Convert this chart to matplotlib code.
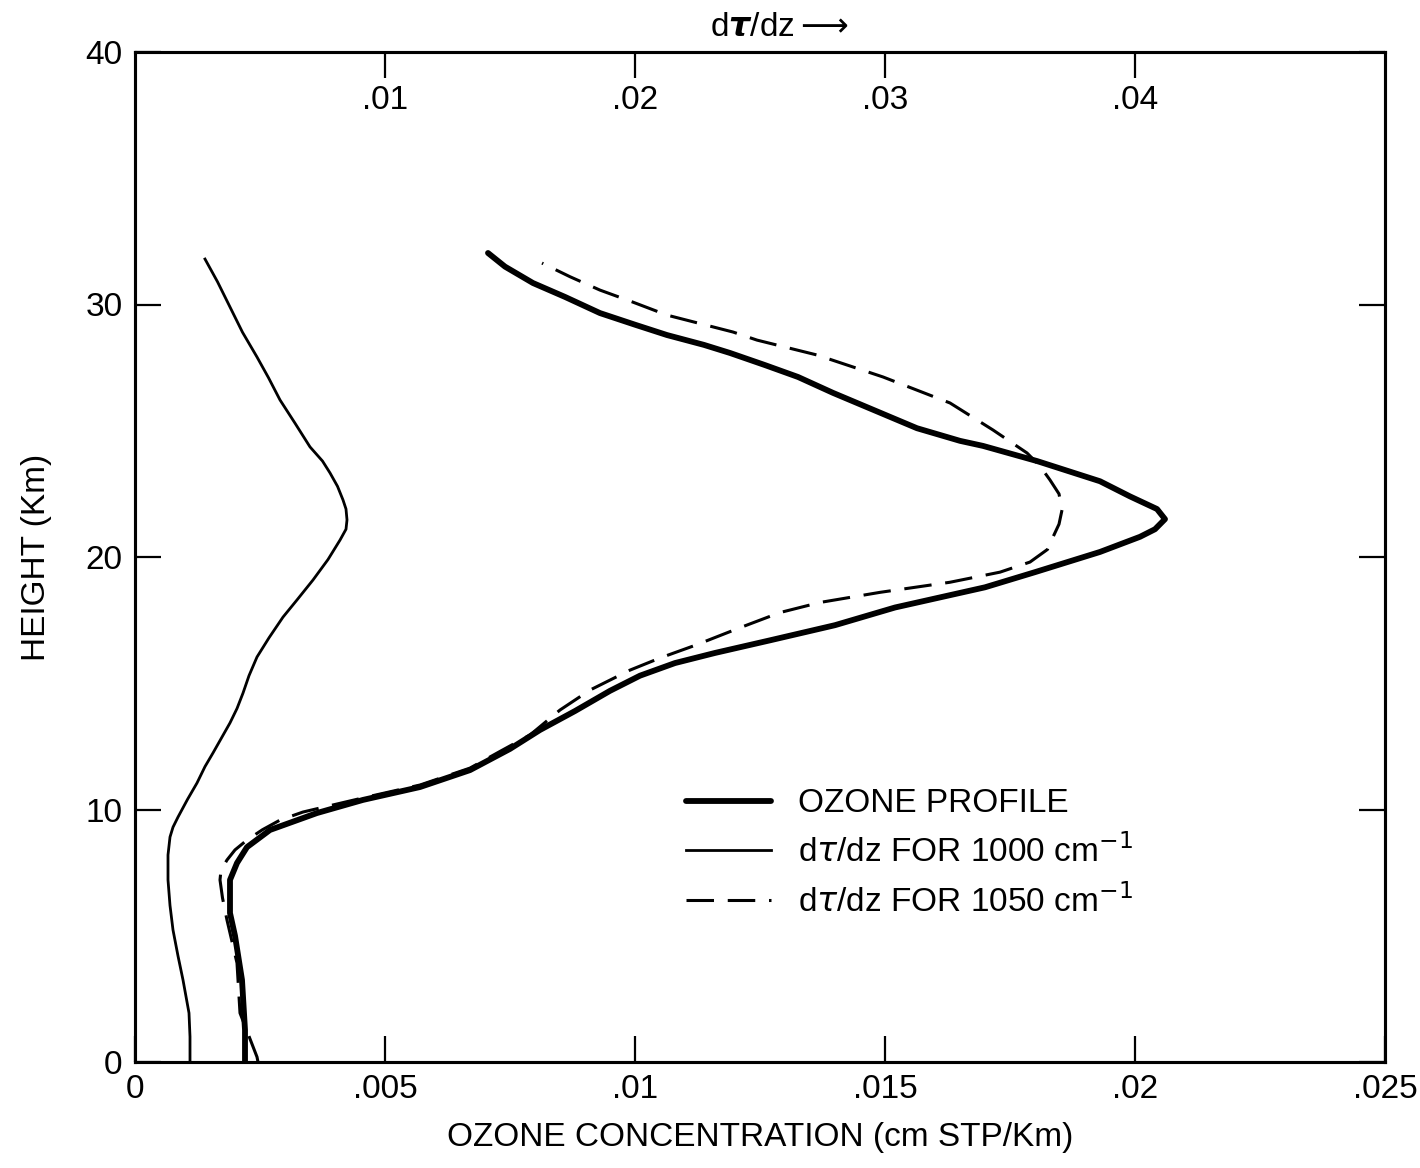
import matplotlib.pyplot as plt

plt.rcParams['font.family'] = ['Liberation Sans', 'DejaVu Sans']
plt.rcParams['mathtext.fontset'] = 'dejavusans'

# ozone profile, bottom axis (cm STP/Km) vs height (km)
oz_h = [0, 1.27, 3.25, 5.0, 5.9, 7.21, 7.88, 8.51, 9.19, 9.86, 10.38, 10.89, 11.56,
        12.4, 13.15, 13.9, 14.7, 15.3, 15.8, 16.2, 16.7, 17.3, 18.0, 18.8, 19.4,
        20.2, 20.8, 21.1, 21.5, 21.9, 22.4, 23.0, 23.8, 24.4, 24.6, 25.1, 25.8,
        26.5, 27.13, 27.6, 28.08, 28.4, 28.79, 29.2, 29.66, 30.3, 30.85, 31.5, 32.04]
oz_x = [0.0022, 0.0022, 0.00214, 0.002, 0.0019, 0.0019, 0.00204, 0.00224, 0.0027,
        0.00364, 0.00456, 0.0057, 0.0067, 0.0075, 0.0081, 0.0088, 0.0095, 0.0101,
        0.0108, 0.0116, 0.0127, 0.0140, 0.0152, 0.0170, 0.0180, 0.0193, 0.0201,
        0.0204, 0.0206, 0.02044, 0.0199, 0.0193, 0.01804, 0.01696, 0.0165, 0.01564,
        0.0148, 0.01396, 0.01326, 0.0126, 0.0119, 0.01138, 0.01064, 0.0100,
        0.0093, 0.0086, 0.00796, 0.0074, 0.00706]

# d tau/dz for 1000 cm-1, top axis
t1000_h = [0, 1.0, 1.94, 3.25, 4.2, 5.23, 6.2, 7.21, 8.2, 8.91, 9.3, 9.70, 10.4,
           11.05, 11.7, 12.24, 12.8, 13.43, 14.0, 14.61, 15.3, 16.04, 16.8, 17.62,
           18.3, 19.09, 19.9, 20.67, 21.1, 21.47, 21.9, 22.26, 22.8, 23.33, 23.8,
           24.36, 25.3, 26.22, 27.1, 27.92, 28.9, 29.90, 30.9, 31.80]
t1000_x = [0.0022, 0.0022, 0.00216, 0.00192, 0.00172, 0.00152, 0.0014, 0.00132,
           0.00132, 0.0014, 0.00152, 0.00172, 0.0021, 0.00248, 0.0028, 0.00312,
           0.00344, 0.0038, 0.00408, 0.00432, 0.00456, 0.00488, 0.00536, 0.00592,
           0.00648, 0.00712, 0.00772, 0.0082, 0.00844, 0.00848, 0.00844, 0.00832,
           0.0081, 0.0078, 0.0075, 0.007, 0.0064, 0.0058, 0.00534, 0.00488, 0.0043,
           0.0038, 0.0033, 0.0028]

# d tau/dz for 1050 cm-1, top axis
t1050_h = [0, 0.2, 1.94, 3.92, 5.62, 6.5, 7.21, 7.6, 8.0, 8.4, 8.79, 9.2, 9.58,
           9.90, 10.46, 10.97, 11.64, 12.3, 12.95, 13.94, 14.73, 15.52, 16.0, 16.5,
           17.2, 17.8, 18.2, 18.6, 19.0, 19.4, 19.8, 20.3, 20.79, 21.3, 21.86,
           22.5, 23.05, 23.6, 24.12, 25.03, 26.1, 27.13, 28.0, 28.59, 28.91, 29.58,
           30.1, 30.57, 31.1, 31.64]
t1050_x = [0.00492, 0.00488, 0.0042, 0.00408, 0.00368, 0.0035, 0.0034, 0.00344,
           0.00368, 0.004, 0.00448, 0.0051, 0.0058, 0.00672, 0.00912, 0.0114,
           0.0134, 0.0146, 0.0158, 0.0170, 0.0182, 0.0198, 0.0210, 0.0224, 0.0242,
           0.0258, 0.0274, 0.0298, 0.0326, 0.0346, 0.0358, 0.0365, 0.03672, 0.03696,
           0.03708, 0.03696, 0.0366, 0.0362, 0.03568, 0.03432, 0.0326, 0.02992,
           0.02728, 0.02488, 0.02392, 0.02128, 0.0199, 0.0186, 0.0174, 0.01628]

bottom_ticks = [0, 0.005, 0.01, 0.015, 0.02, 0.025]
bottom_labels = ['0', '.005', '.01', '.015', '.02', '.025']
top_ticks = [0.01, 0.02, 0.03, 0.04]
top_labels = ['.01', '.02', '.03', '.04']
y_ticks = [0, 10, 20, 30, 40]

fig = plt.figure(figsize=(14.2, 11.68), dpi=100)
ax = fig.add_axes([135 / 1420, 1 - 1062 / 1168, 1250 / 1420, 1010 / 1168])
ax2 = ax.twiny()

ax.set_xlim(0, 0.025)
ax.set_ylim(0, 40)
ax2.set_xlim(0, 0.05)

l1, = ax.plot(oz_x, oz_h, color='black', lw=4.2, solid_capstyle='round',
              solid_joinstyle='round')
l2, = ax2.plot(t1000_x, t1000_h, color='black', lw=2.0, solid_joinstyle='round')
l3, = ax2.plot(t1050_x, t1050_h, color='black', lw=2.2, dashes=(9, 4.5))

for a in (ax, ax2):
    for s in a.spines.values():
        s.set_linewidth(2.2)

ax.set_xticks(bottom_ticks)
ax.set_xticklabels(bottom_labels)
ax.set_yticks(y_ticks)
ax.tick_params(axis='both', direction='in', length=19, width=1.6, labelsize=24,
               right=True, top=False)
ax.tick_params(axis='x', pad=9)
ax.tick_params(axis='y', pad=9)

ax2.set_xticks(top_ticks)
ax2.set_xticklabels(top_labels)
ax2.tick_params(axis='x', direction='in', length=19, width=1.6, labelsize=24, pad=-46)

ax.set_ylabel('HEIGHT (Km)', fontsize=24, labelpad=24)
ax.set_xlabel('OZONE CONCENTRATION (cm STP/Km)', fontsize=24, labelpad=12)
fig.text(780 / 1420, 1 - 28 / 1168, r'd$\boldsymbol{\tau}$/dz$\longrightarrow$',
         fontsize=24, ha='center', va='center')

ax2.legend([l1, l2, l3],
           ['OZONE PROFILE', r'd$\tau$/dz FOR 1000 cm$^{-1}$',
            r'd$\tau$/dz FOR 1050 cm$^{-1}$'],
           loc='upper left', bbox_to_anchor=(538 / 1250, 1 - 775 / 1010 + 52 / 1010),
           frameon=False, fontsize=24, handlelength=2.55, handletextpad=0.8,
           labelspacing=0.45, borderaxespad=0)

fig.savefig('out.png', dpi=100)
